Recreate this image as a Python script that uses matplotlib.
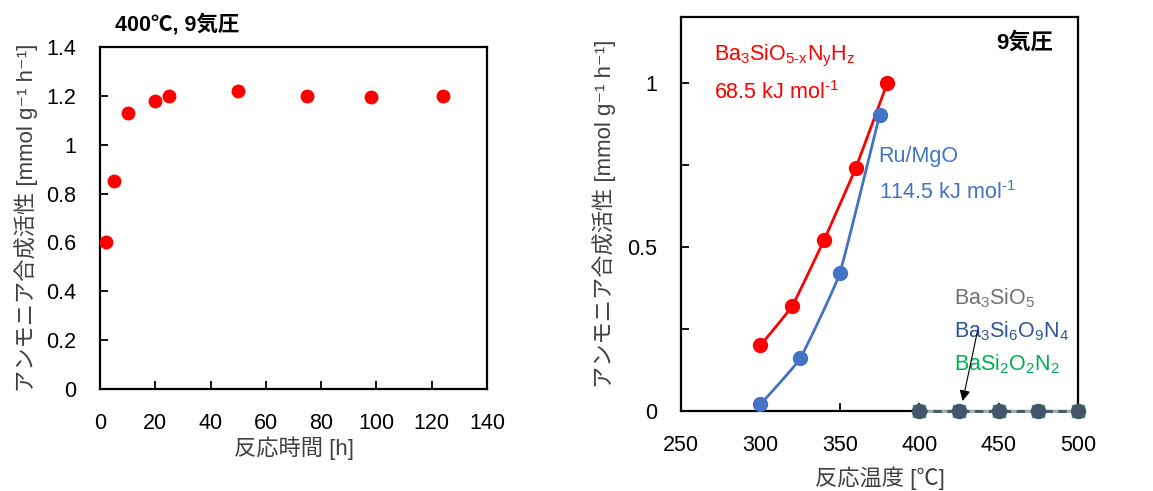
import numpy as np
import matplotlib
matplotlib.use("Agg")
import matplotlib.pyplot as plt

plt.rcParams['font.family'] = ['Liberation Sans', 'Noto Sans CJK JP', 'DejaVu Sans']
plt.rcParams['mathtext.fontset'] = 'custom'
plt.rcParams['mathtext.rm'] = 'Liberation Sans'
plt.rcParams['mathtext.it'] = 'Liberation Sans'
plt.rcParams['mathtext.bf'] = 'Liberation Sans:bold'

# ---- Left panel data ----
time_h = [2, 5, 10, 20, 25, 50, 75, 98, 124]
activity_time = [0.60, 0.85, 1.13, 1.18, 1.20, 1.22, 1.20, 1.195, 1.20]

# ---- Right panel data ----
temp_bsonh = [300, 320, 340, 360, 380]
act_bsonh = [0.20, 0.32, 0.52, 0.74, 1.00]
temp_ru = [300, 325, 350, 375]
act_ru = [0.02, 0.16, 0.42, 0.90]
temp_zero = [400, 425, 450, 475, 500]
act_ba3sio5 = [0, 0, 0, 0, 0]
act_ba3si6o9n4 = [0, 0, 0, 0, 0]
act_basi2o2n2 = [0, 0, 0, 0, 0]

left_xticks = [0, 20, 40, 60, 80, 100, 120, 140]
left_yticks = [0, 0.2, 0.4, 0.6, 0.8, 1.0, 1.2, 1.4]
left_yticklabels = ['0', '0.2', '0.4', '0.6', '0.8', '1', '1.2', '1.4']
right_xticks = [250, 300, 350, 400, 450, 500]
right_yticks = [0, 0.25, 0.5, 0.75, 1.0]
right_yticklabels = ['0', '', '0.5', '', '1']

RED = '#FF0000'
BLUE = '#4472C4'
SLATE = '#44546A'
GREEN = '#00B050'
TXT_GRAY = '#767171'
TXT_NAVY = '#2F5597'


def smooth(x, y, n=30, k=0.35):
    """Cardinal-spline smoothing of a polyline for display (Excel-like)."""
    x = np.asarray(x, float)
    y = np.asarray(y, float)
    P = np.column_stack([x, y])
    P = np.vstack([P[0] - (P[1] - P[0]), P, P[-1] + (P[-1] - P[-2])])
    out = []
    for i in range(1, len(P) - 2):
        p0, p1, p2, p3 = P[i - 1], P[i], P[i + 1], P[i + 2]
        m1 = k * 0.5 * (p2 - p0)
        m2 = k * 0.5 * (p3 - p1)
        t = np.linspace(0, 1, n)[:, None]
        h00 = 2 * t ** 3 - 3 * t ** 2 + 1
        h10 = t ** 3 - 2 * t ** 2 + t
        h01 = -2 * t ** 3 + 3 * t ** 2
        h11 = t ** 3 - t ** 2
        seg = h00 * p1 + h10 * m1 + h01 * p2 + h11 * m2
        out.append(seg if i == len(P) - 3 else seg[:-1])
    out = np.vstack(out)
    return out[:, 0], out[:, 1]


W, H = 1153, 491
fig = plt.figure(figsize=(W / 100, H / 100), dpi=100)

ylab = 'アンモニア合成活性 [mmol g⁻¹ h⁻¹]'
FS = 15.5
LFS = 16

# ---------------- Left ----------------
ax1 = fig.add_axes([100 / W, 1 - 389 / H, 387 / W, 342 / H])
ax1.plot(time_h, activity_time, 'o', color=RED, markersize=9, zorder=3)
ax1.set_xlim(0, 140)
ax1.set_ylim(0, 1.4)
ax1.set_xticks(left_xticks)
ax1.set_yticks(left_yticks)
ax1.set_yticklabels(left_yticklabels)
ax1.tick_params(direction='in', length=6, width=1.3, labelsize=FS, pad=17, color='black')
for s in ax1.spines.values():
    s.set_linewidth(1.6)
ax1.set_xlabel('反応時間 [h]', fontsize=LFS, color='#404040', labelpad=2)
ax1.set_ylabel(ylab, fontsize=LFS, color='#404040', labelpad=6)
fig.text(115 / W, 1 - 25 / H, '400℃, 9気圧', fontsize=15.5, fontweight='bold',
         ha='left', va='center')

# ---------------- Right ----------------
ax2 = fig.add_axes([681 / W, 1 - 411 / H, 397 / W, 394 / H])
sx, sy = smooth(temp_bsonh, act_bsonh)
ax2.plot(sx, sy, '-', color=RED, lw=2, zorder=3)
ax2.plot(temp_bsonh, act_bsonh, 'o', color=RED, markersize=10, zorder=4)
sx, sy = smooth(temp_ru, act_ru)
ax2.plot(sx, sy, '-', color=BLUE, lw=2, zorder=3)
ax2.plot(temp_ru, act_ru, 'o', color=BLUE, markersize=10, zorder=4)

ax2.plot(temp_zero, act_basi2o2n2, 's-', color=GREEN, markersize=8, lw=2,
         zorder=4, clip_on=False)
ax2.plot(temp_zero, act_ba3sio5, 'o-', color='#A9B0AE', markersize=10, lw=2,
         zorder=5, clip_on=False)
ax2.plot(temp_zero, act_ba3si6o9n4, 'o--', color=SLATE, markersize=10, lw=2,
         dashes=(3, 2), zorder=6, clip_on=False)

ax2.set_xlim(250, 500)
ax2.set_ylim(0, 1.2)
ax2.set_xticks(right_xticks)
ax2.set_yticks(right_yticks)
ax2.set_yticklabels(right_yticklabels)
ax2.tick_params(direction='in', length=6, width=1.3, labelsize=FS, pad=17, color='black')
for s in ax2.spines.values():
    s.set_linewidth(1.6)
ax2.set_xlabel('反応温度 [℃]', fontsize=LFS, color='#404040', labelpad=8)
ax2.set_ylabel(ylab, fontsize=LFS, color='#404040', labelpad=8)

ax2.text(0.937, 0.934, '9気圧', transform=ax2.transAxes, fontsize=16,
         fontweight='bold', ha='right', va='center')

ax2.text(270.5, 1.08, r'Ba$_3$SiO$_{5\text{-x}}$N$_\mathrm{y}$H$_\mathrm{z}$',
         color=RED, fontsize=15.5, ha='left', va='center')
ax2.text(270.5, 0.97, r'68.5 kJ mol$^{\text{-1}}$', color=RED, fontsize=15.5,
         ha='left', va='center')
ax2.text(374.5, 0.775, 'Ru/MgO', color=BLUE, fontsize=15.5, ha='left', va='center')
ax2.text(374.5, 0.665, r'114.5 kJ mol$^{\text{-1}}$', color=BLUE, fontsize=15.5,
         ha='left', va='center')
ax2.text(422, 0.345, r'Ba$_3$SiO$_5$', color=TXT_GRAY, fontsize=15.5, ha='left', va='center')
ax2.text(422, 0.244, r'Ba$_3$Si$_6$O$_9$N$_4$', color=TXT_NAVY, fontsize=15.5,
         ha='left', va='center')
ax2.text(422, 0.143, r'BaSi$_2$O$_2$N$_2$', color=GREEN, fontsize=15.5, ha='left', va='center')
ax2.annotate('', xy=(427, 0.022), xytext=(437, 0.25),
             arrowprops=dict(arrowstyle='-|>', color='black', lw=0.8,
                             mutation_scale=16), zorder=7)

fig.savefig('out.png', dpi=100)
